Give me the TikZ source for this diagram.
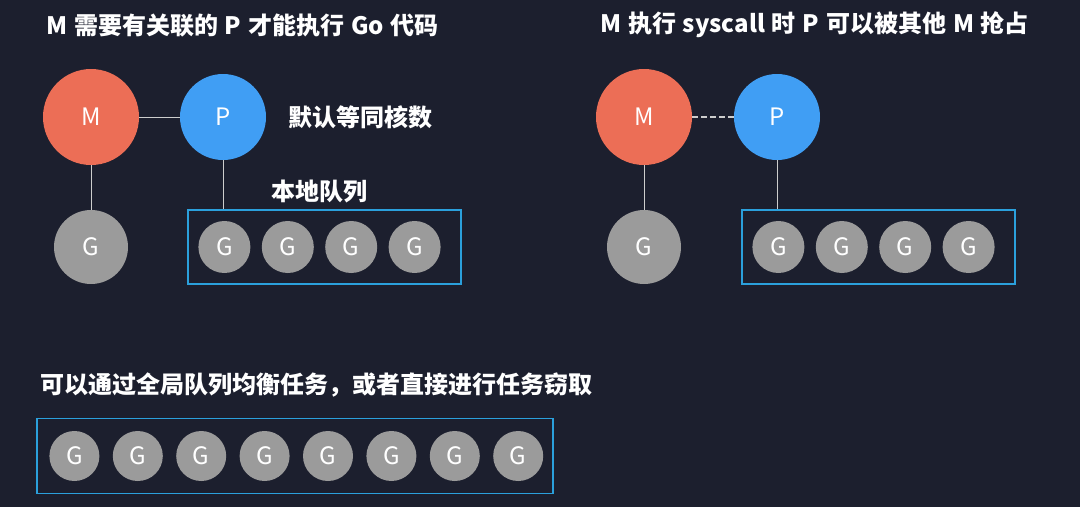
\documentclass[tikz,border=0pt]{standalone}
\usepackage{fontspec}
\setmainfont{Noto Sans CJK SC}[WordSpace=1.25]
\usetikzlibrary{positioning}
\definecolor{colBg}   {RGB}{28,31,46}
\definecolor{colM}    {RGB}{236,110,86}
\definecolor{colP}    {RGB}{64,158,244}
\definecolor{colG}    {RGB}{155,155,155}
\definecolor{colQueue}{RGB}{43,160,220}
\definecolor{colLink} {RGB}{205,205,205}
\tikzset{
  ball/.style    = {circle, inner sep=0pt, text=white,
                    font=\fontsize{24}{24}\selectfont},
  mnode/.style   = {ball, fill=colM, minimum size=96pt},
  pnode/.style   = {ball, fill=colP, minimum size=86pt},
  gbig/.style    = {ball, fill=colG, minimum size=74pt},
  gsmall/.style  = {ball, fill=colG, minimum size=52pt},
  queue/.style   = {draw=colQueue, line width=1.6pt, inner sep=0pt},
  link/.style    = {draw=colLink, line width=1pt},
  heading/.style = {text=white, font=\fontsize{24}{24}\selectfont\bfseries,
                    anchor=west, inner sep=0pt},
}
\begin{document}
\begin{tikzpicture}[x=1pt, y=-1pt]

%% ── canvas ──────────────────────────────────────────────────────────────────
\fill[colBg] (0,0) rectangle (1080,507);
\useasboundingbox (0,0) rectangle (1080,507);

%% ── left: M needs P ─────────────────────────────────────────────────────────
\node[heading] (titleA) at (46,25) {M 需要有关联的 P 才能执行 Go 代码};

\node[mnode] (mA) at (91,117) {M};
\node[pnode] (pA) at (223,117) {P};
\node[gbig]  (gA) at (91,247) {G};
\node[heading] (coresA) at (288,117) {默认等同核数};
\node[heading] (localA) at (271,191) {本地队列};

\node[queue, minimum width=273pt, minimum height=74pt] (lqA) at (324.5,247) {};
\node[gsmall, right=11pt of lqA.west] (lqA1) {G};
\node[gsmall, right=11pt of lqA1] (lqA2) {G};
\node[gsmall, right=11pt of lqA2] (lqA3) {G};
\node[gsmall, right=11pt of lqA3] (lqA4) {G};

\draw[link] (mA) -- (pA);
\draw[link] (mA) -- (gA);
\draw[link] (pA) -- (pA |- lqA.north);

%% ── right: syscall, P can be taken ──────────────────────────────────────────
\node[heading] (titleB) at (600,25) {M 执行 syscall 时 P 可以被其他 M 抢占};

\node[mnode] (mB) at (644,117) {M};
\node[pnode] (pB) at (777,117) {P};
\node[gbig]  (gB) at (644,247) {G};

\node[queue, minimum width=273pt, minimum height=74pt] (lqB) at (878.5,247) {};
\node[gsmall, right=11pt of lqB.west] (lqB1) {G};
\node[gsmall, right=11pt of lqB1] (lqB2) {G};
\node[gsmall, right=11pt of lqB2] (lqB3) {G};
\node[gsmall, right=11pt of lqB3] (lqB4) {G};

\draw[link, line width=2pt, dash pattern=on 6pt off 3pt] (mB) -- (pB);
\draw[link] (mB) -- (gB);
\draw[link] (pB) -- (pB |- lqB.north);

%% ── bottom: global queue ────────────────────────────────────────────────────
\node[heading] (globalT) at (40,385) {可以通过全局队列均衡任务，或者直接进行任务窃取};

\node[queue, minimum width=516pt, minimum height=75pt] (gq) at (295,456) {};
\node[gsmall, minimum size=50pt, right=13pt of gq.west] (gq1) {G};
\node[gsmall, minimum size=50pt, right=13pt of gq1] (gq2) {G};
\node[gsmall, minimum size=50pt, right=13pt of gq2] (gq3) {G};
\node[gsmall, minimum size=50pt, right=13pt of gq3] (gq4) {G};
\node[gsmall, minimum size=50pt, right=13pt of gq4] (gq5) {G};
\node[gsmall, minimum size=50pt, right=13pt of gq5] (gq6) {G};
\node[gsmall, minimum size=50pt, right=13pt of gq6] (gq7) {G};
\node[gsmall, minimum size=50pt, right=13pt of gq7] (gq8) {G};

\end{tikzpicture}
\end{document}
